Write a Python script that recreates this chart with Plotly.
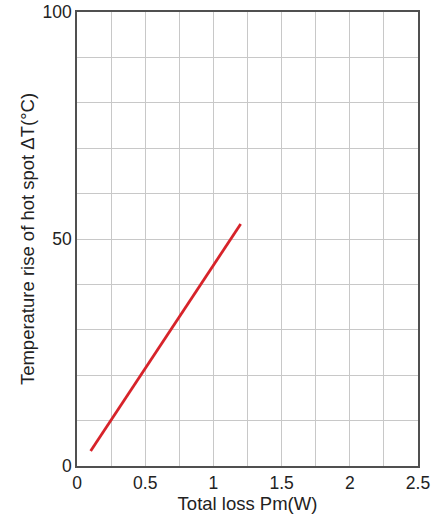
import plotly.graph_objects as go

loss_w = [0.1, 1.2]
temp_rise = [3.3, 53.3]

FONT = "Liberation Sans, Arial, Helvetica, sans-serif"

fig = go.Figure()
fig.add_trace(go.Scatter(x=loss_w, y=temp_rise, mode="lines",
                         line=dict(color="#d7232a", width=2.8), showlegend=False))

axis_common = dict(showline=True, linecolor="#505050", linewidth=1.5, mirror=True,
                   showgrid=True, gridcolor="#c8c8c8", gridwidth=1, automargin=False,
                   zeroline=False, ticks="", ticklabeloverflow="allow",
                   tickfont=dict(size=17.5, color="#222222", family=FONT))

fig.update_layout(
    width=445, height=515,
    margin=dict(l=77, r=27, t=12, b=49, autoexpand=False),
    plot_bgcolor="white", paper_bgcolor="white",
    font=dict(family=FONT, color="#222222"),
    xaxis=dict(range=[0, 2.5], dtick=0.5, tick0=0,
               minor=dict(dtick=0.25, showgrid=True, gridcolor="#c8c8c8", gridwidth=1),
               title=dict(text="Total loss Pm(W)", font=dict(size=18.5), standoff=1),
               **axis_common),
    yaxis=dict(range=[0, 100], dtick=50, tick0=0,
               minor=dict(dtick=10, showgrid=True, gridcolor="#c8c8c8", gridwidth=1),
               title=dict(text="Temperature rise of hot spot ΔT(°C)", font=dict(size=18.5), standoff=3),
               **axis_common),
)

fig.write_html("out.html", config={"displayModeBar": False},
               post_script="document.body.style.margin='0';document.body.style.overflow='hidden';")
